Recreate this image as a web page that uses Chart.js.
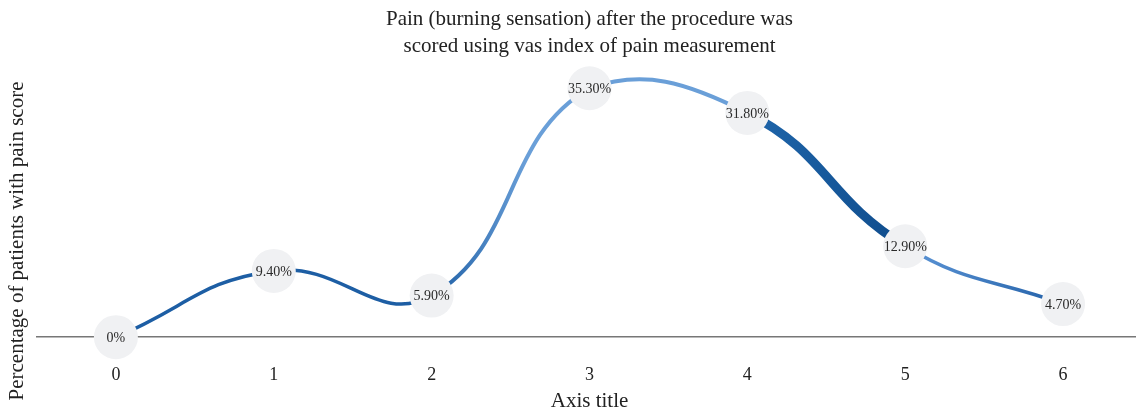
<!DOCTYPE html>
<html>
<head>
<meta charset="utf-8">
<script src="https://cdn.jsdelivr.net/npm/chart.js@4.4.0/dist/chart.umd.min.js"></script>
<style>
  html, body { margin: 0; padding: 0; background: #fff; overflow: hidden; }
  #wrap { width: 1142px; height: 412px; }
</style>
</head>
<body>
<div id="wrap"><canvas id="c"></canvas></div>
<script>
// data
const scores = ['0', '1', '2', '3', '4', '5', '6'];
const percents = [0, 9.4, 5.9, 35.3, 31.8, 12.9, 4.7];
const pointLabels = ['0%', '9.40%', '5.90%', '35.30%', '31.80%', '12.90%', '4.70%'];

const serif = '"Liberation Serif", "DejaVu Serif", serif';
const dark = '#1d5ea4';
const light = '#6a9fd8';
const ctx2d = document.getElementById('c').getContext('2d');

// colour / width of each piece of the line
function segColor(ctx) {
    const i = ctx.p0DataIndex;
    const g = ctx2d.createLinearGradient(ctx.p0.x, 0, ctx.p1.x, 0);
    if (i === 2) { g.addColorStop(0, dark); g.addColorStop(0.6, light); g.addColorStop(1, light); return g; }
    if (i === 3) return light;
    if (i === 4) { g.addColorStop(0, '#1f66ab'); g.addColorStop(1, '#0f4c8c'); return g; }
    if (i === 5) { g.addColorStop(0, '#5d95d6'); g.addColorStop(1, '#2361a8'); return g; }
    return dark;
}
function segWidth(ctx) {
    const i = ctx.p0DataIndex;
    if (i === 4) return 9;
    if (i === 2 || i === 3) return 4;
    return 3.5;
}

// numbers inside the circles + rotated y title
const labelsPlugin = {
    id: 'pointText',
    afterDatasetsDraw(chart) {
        const c = chart.ctx;
        const meta = chart.getDatasetMeta(0);
        c.save();
        c.font = '14px ' + serif;
        c.fillStyle = '#2b2b2b';
        c.textAlign = 'center';
        c.textBaseline = 'middle';
        meta.data.forEach((pt, i) => {
            c.fillText(pointLabels[i], pt.x, pt.y + 1);
        });
        c.restore();
    },
    afterDraw(chart) {
        const c = chart.ctx;
        c.save();
        c.font = '21px ' + serif;
        c.fillStyle = '#222';
        c.textAlign = 'center';
        c.textBaseline = 'middle';
        c.translate(17, 241);
        c.rotate(-Math.PI / 2);
        c.fillText('Percentage of patients with pain score', 0, 0);
        c.restore();
    }
};

new Chart(document.getElementById('c'), {
    type: 'line',
    data: {
        labels: scores,
        datasets: [{
            data: percents,
            tension: 0.45,
            borderColor: dark,
            borderWidth: 3.5,
            borderCapStyle: 'round',
            pointRadius: 22,
            pointHoverRadius: 22,
            pointBackgroundColor: '#f0f1f3',
            pointBorderWidth: 0,
            clip: false,
            segment: {
                borderColor: segColor,
                borderWidth: segWidth
            }
        }]
    },
    options: {
        responsive: true,
        maintainAspectRatio: false,
        animation: false,
        layout: { autoPadding: false, padding: { left: 29, right: 0, top: 0, bottom: 0 } },
        plugins: {
            legend: { display: false },
            tooltip: { enabled: false },
            title: {
                display: true,
                fullSize: false,
                text: ['Pain (burning sensation) after the procedure was', 'scored using vas index of pain measurement'],
                font: { family: serif, size: 21, weight: 'normal', lineHeight: 1.29 },
                color: '#222',
                padding: { top: 6, bottom: 9 }
            }
        },
        scales: {
            x: {
                offset: true,
                grid: { display: false },
                border: { color: '#777', width: 1.5 },
                ticks: { font: { family: serif, size: 18 }, color: '#222', padding: 19 },
                title: { display: true, text: 'Axis title', font: { family: serif, size: 21 }, color: '#222', padding: { top: -16, bottom: -2 } }
            },
            y: {
                min: 0,
                max: 38,
                display: true,
                grid: { display: false },
                border: { display: false },
                ticks: { display: false }
            }
        }
    },
    plugins: [labelsPlugin]
});
</script>
</body>
</html>
